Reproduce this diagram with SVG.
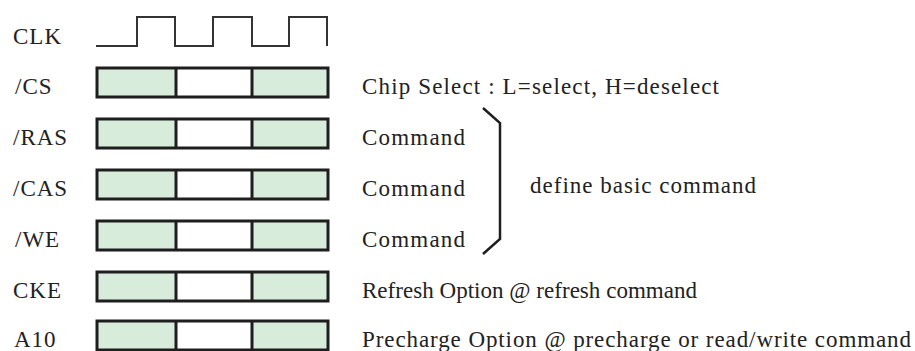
<svg xmlns="http://www.w3.org/2000/svg" width="915" height="351" viewBox="0 0 915 351">
<style>
text{font-family:'Liberation Serif','Times New Roman',serif;font-size:23px;fill:#222;letter-spacing:1px}
.g{fill:#d8ecdc}
.w{fill:#fff}
.b{fill:none;stroke:#1e1e1e;stroke-width:3}
.d{stroke:#1e1e1e;stroke-width:3}
.clk{fill:none;stroke:#333;stroke-width:2}
.br{fill:none;stroke:#1e1e1e;stroke-width:2.5}
</style>
<defs>
<g id="bus">
<rect class="g" x="97" y="0" width="79" height="29"/>
<rect class="w" x="176" y="0" width="76" height="29"/>
<rect class="g" x="252" y="0" width="76" height="29"/>
<rect class="b" x="97" y="0" width="231" height="29"/>
<line class="d" x1="176" y1="0" x2="176" y2="29"/>
<line class="d" x1="252" y1="0" x2="252" y2="29"/>
</g>
</defs>
<g id="clk">
<text x="13" y="44">CLK</text>
<path class="clk" d="M96,46 H137 V17 H175 V46 H213 V17 H252 V46 H289 V17 H327 V46"/>
</g>
<g id="cs">
<text x="15" y="94">/CS</text>
<use href="#bus" y="68"/>
<text x="362" y="94" textLength="358" lengthAdjust="spacing">Chip Select : L=select, H=deselect</text>
</g>
<g id="ras">
<text x="13" y="145">/RAS</text>
<use href="#bus" y="119"/>
<text x="362" y="145" textLength="104" lengthAdjust="spacing">Command</text>
</g>
<g id="cas">
<text x="13" y="196">/CAS</text>
<use href="#bus" y="170"/>
<text x="362" y="196" textLength="104" lengthAdjust="spacing">Command</text>
</g>
<g id="we">
<text x="15" y="247">/WE</text>
<use href="#bus" y="221"/>
<text x="362" y="247" textLength="104" lengthAdjust="spacing">Command</text>
</g>
<g id="cke">
<text x="13" y="298">CKE</text>
<use href="#bus" y="272"/>
<text x="362" y="298" textLength="336" lengthAdjust="spacing">Refresh Option @ refresh command</text>
</g>
<g id="a10">
<text x="14" y="347">A10</text>
<use href="#bus" y="321"/>
<text x="362" y="347" textLength="550" lengthAdjust="spacing">Precharge Option @ precharge or read/write command</text>
</g>
<g id="connectors">
<path class="br" d="M483,108 L500,123 L500,239 L483,254"/>
</g>
<g id="note">
<text x="530" y="193" textLength="227" lengthAdjust="spacing">define basic command</text>
</g>
</svg>
